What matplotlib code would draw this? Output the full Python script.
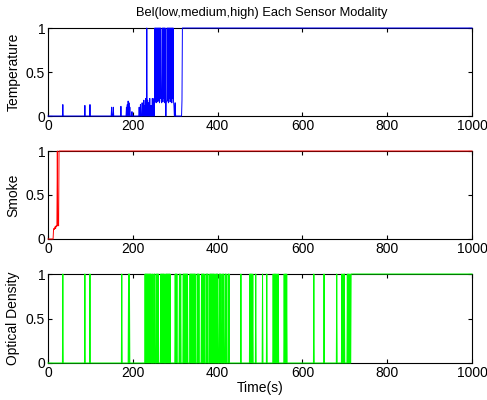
import numpy as np
import matplotlib.pyplot as plt

plt.rcParams['font.family'] = ['Liberation Sans', 'DejaVu Sans']
plt.rcParams['font.size'] = 10

# Samples (one per second) that differ from zero before the signal settles at 1
temp_t = [35, 87, 99, 150, 154, 172, 185, 187, 189, 191, 193, 198, 215, 218,
          222, 224, 226, 228, 230, 233, 235, 237, 240, 243, 246, 248, 250,
          252, 253, 254, 255, 256, 257, 258, 259, 260, 261, 262, 263, 264,
          265, 266, 267, 268, 269, 270, 271, 272, 273, 274, 275, 276, 277, 279,
          280, 281, 282, 283, 284, 285, 286, 287, 288, 289, 290, 291, 292, 293,
          294, 295, 296, 297, 300, 316]
temp_v = [0.13, 0.12, 0.13, 0.10, 0.10, 0.11, 0.10, 0.13, 0.17, 0.15, 0.10,
          0.05, 0.10, 0.13, 0.15, 0.10, 0.18, 0.12, 0.20, 1.0, 0.18, 0.15, 0.20,
          0.12, 0.20, 0.15, 0.20,
          1.0, 0.17, 1.0, 0.15, 1.0, 0.20, 1.0, 0.16, 1.0, 0.18, 1.0, 0.15,
          1.0, 0.20, 1.0, 0.17, 0.15, 0.18, 1.0, 0.16, 1.0, 0.20, 1.0, 0.15,
          1.0, 0.17, 0.15, 0.18, 1.0, 0.17, 1.0, 0.15, 1.0, 0.20, 1.0, 0.16,
          1.0, 0.18, 1.0, 0.15, 1.0, 0.20, 1.0, 0.17, 0.12, 0.15, 0.18]
temp_high_from = 317

smoke_t = [13, 14, 15, 16, 17, 18, 19, 20, 21, 22, 23, 24, 25]
smoke_v = [0.10, 0.12, 0.11, 0.13, 0.14, 0.12, 0.15, 0.14, 0.15, 1.0, 0.15,
           0.20, 0.15]
smoke_high_from = 26

# Optical density: single samples at 1 before it settles at 1
od_t = [35, 87, 99, 174, 190, 192,
        229, 231, 233, 235, 237, 239, 241, 243, 246, 250, 252, 256, 258, 260,
        266, 268, 270, 272, 274, 278, 280, 282, 284, 286, 288, 300, 302, 304,
        310, 313, 319, 321, 323, 325, 327, 329, 335, 337, 339, 341, 343, 345,
        347, 352, 354, 356, 362, 364, 366, 368, 373, 375, 377, 382, 384, 386,
        388, 390, 392, 396, 398, 400, 404, 406, 408, 412, 414, 418, 420, 425,
        427, 455, 476, 478, 480, 483, 490, 506, 516, 531, 534, 537, 540, 543,
        557, 560, 563, 627, 651, 681, 693, 696, 699, 706, 709, 712]
od_high_from = 715

time = np.arange(0, 1001)


def build(ts, vs, high_from):
    y = np.zeros(len(time))
    y[ts] = vs
    y[high_from:] = 1.0
    return y


temperature = build(temp_t, temp_v, temp_high_from)
smoke = build(smoke_t, smoke_v, smoke_high_from)
optical = build(od_t, [1.0] * len(od_t), od_high_from)

fig = plt.figure(figsize=(4.87, 4.0), dpi=100)
left, width = 48 / 487, 424 / 487
positions = [(1 - 116 / 400, 88 / 400),
             (1 - 239 / 400, 88 / 400),
             (1 - 363 / 400, 89 / 400)]
series = [(temperature, (0, 0, 1), "Temperature"),
          (smoke, (1, 0, 0), "Smoke"),
          (optical, (0, 1, 0), "Optical Density")]

for (bottom, height), (y, color, label) in zip(positions, series):
    ax = fig.add_axes([left, bottom, width, height])
    ax.plot(time, y, color=color, lw=0.7, clip_on=False, zorder=3)
    ax.set_xlim(0, 1000)
    ax.set_ylim(0, 1)
    ax.set_xticks([0, 200, 400, 600, 800, 1000])
    ax.set_yticks([0, 0.5, 1])
    ax.set_yticklabels(["0", "0.5", "1"])
    ax.tick_params(direction="in", top=True, right=True, length=3,
                   width=0.8, labelsize=10, pad=2)
    for s in ax.spines.values():
        s.set_linewidth(0.8)
    ax.set_ylabel(label, fontsize=10, labelpad=4)

ax.set_xlabel("Time(s)", fontsize=10, labelpad=1)
fig.text(262 / 487, 1 - 13 / 400, "Bel(low,medium,high) Each Sensor Modality",
         ha="center", va="center", fontsize=9.3)

fig.savefig("out.png", dpi=100)
